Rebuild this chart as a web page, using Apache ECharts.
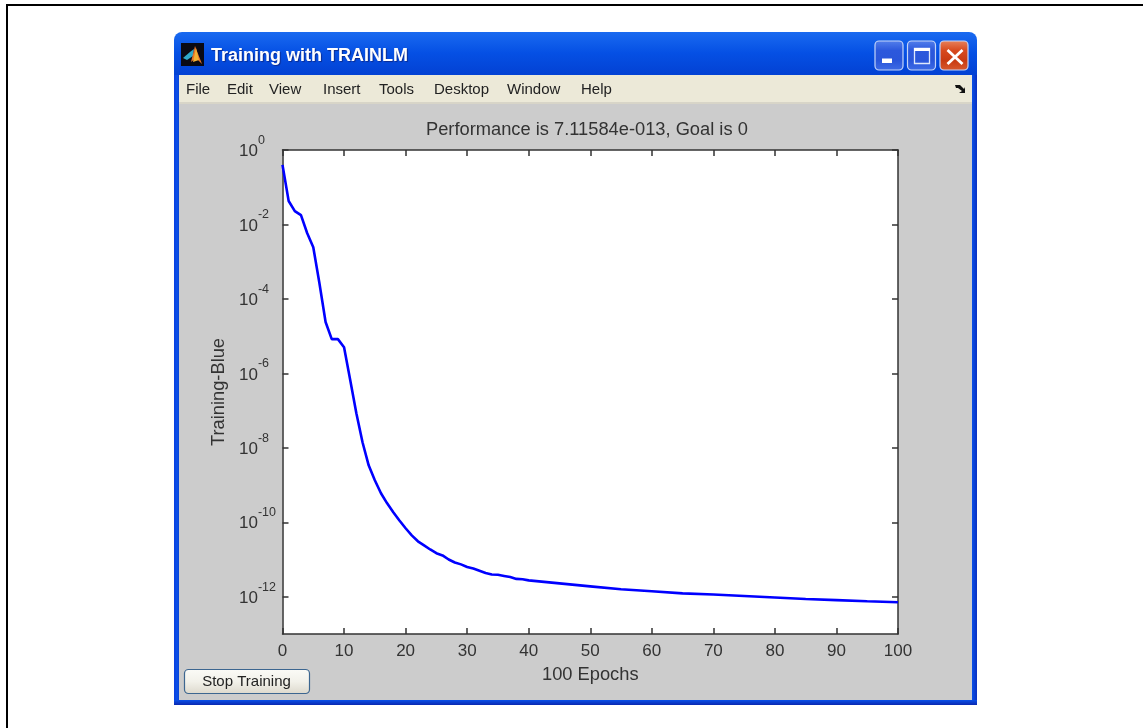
<!DOCTYPE html>
<html><head><meta charset="utf-8">
<style>html,body{margin:0;padding:0;background:#fff}#c{width:1143px;height:728px}</style>
<script src="https://cdn.jsdelivr.net/npm/echarts@6/dist/echarts.min.js"></script>
</head><body><div id="c"></div>
<script>
const windowTitle = 'Training with TRAINLM';
const chartTitle = 'Performance is 7.11584e-013, Goal is 0';
const xName = '100 Epochs';
const yName = 'Training-Blue';
const buttonText = 'Stop Training';
const menuItems = ['File','Edit','View','Insert','Tools','Desktop','Window','Help'];
const menuX = [186,227,269,323,379,434,507,581];
const epochs = [0,1,2,3,4,5,6,7,8,9,10,11,12,13,14,15,16,17,18,19,20,21,22,23,24,25,26,27,28,29,30,31,32,33,34,35,36,37,38,39,40,45,50,55,60,65,70,75,80,85,90,95,100];
const perfExp = [-0.40,-1.37,-1.64,-1.75,-2.23,-2.61,-3.58,-4.62,-5.08,-5.08,-5.30,-6.18,-7.07,-7.85,-8.47,-8.87,-9.22,-9.49,-9.73,-9.95,-10.16,-10.35,-10.51,-10.62,-10.73,-10.83,-10.89,-11.00,-11.08,-11.13,-11.20,-11.24,-11.30,-11.36,-11.40,-11.41,-11.44,-11.47,-11.52,-11.53,-11.56,-11.64,-11.72,-11.80,-11.85,-11.91,-11.94,-11.98,-12.02,-12.06,-12.09,-12.12,-12.148];
const xTicks = [0,10,20,30,40,50,60,70,80,90,100];
const yTickExp = [0,-2,-4,-6,-8,-10,-12];
const yTicks = yTickExp.map(e => Math.pow(10, e));

const FONT = '"Liberation Sans", Arial, sans-serif';
const INK = '#333333';
const sup = {sup:{fontSize:12.5,verticalAlign:'bottom',padding:[0,0,13,0],color:INK,fontFamily:FONT,lineHeight:13},
             b:{fontSize:17,color:INK,fontFamily:FONT,padding:[3,0,0,0]}};
const axisLine = {show:true,onZero:false,lineStyle:{color:INK,width:1.5}};

function grad(stops,h){return {type:'linear',x:0,y:0,x2:h?1:0,y2:h?0:1,colorStops:stops.map((c,i)=>({offset:i/(stops.length-1),color:c}))};}
const rect=(x,y,w,h,fill,extra)=>Object.assign({type:'rect',shape:{x,y,width:w,height:h,r:(extra&&extra.r)||0},style:Object.assign({fill},(extra&&extra.style)||{}),silent:true},extra&&extra.z?{z:extra.z}:{});
const txt=(x,y,text,style)=>({type:'text',x,y,silent:true,style:Object.assign({text,fontFamily:FONT,fill:'#222',verticalAlign:'middle'},style)});
const poly=(pts,fill)=>({type:'polygon',shape:{points:pts},style:{fill},silent:true});
const winBtn=(x,fill)=>rect(x,41,28,29,fill,{r:4,style:{stroke:'#c4d4f8',lineWidth:1.2}});
const hair=(x1,y1,x2,y2,w)=>({type:'line',shape:{x1,y1,x2,y2},style:{stroke:'#fff',lineWidth:w},silent:true});

const graphics = [
  // page frame: top and left rules only
  {type:'polyline',shape:{points:[[7,728],[7,5],[1143,5]]},style:{stroke:'#000',lineWidth:2,fill:null},silent:true},
  // window body
  {type:'rect',shape:{x:174,y:32,width:803,height:673,r:[8,8,0,0]},style:{fill:grad(['#1A6AF0','#0550E4','#0342D4','#0650E2','#0344D6'].concat(Array(28).fill('#0A3CDC')))},silent:true},
  rect(174,75,6,630,grad(['#0A3EE0','#0A50E8','#0A3CD0'],true)),
  rect(972,75,5,630,grad(['#0A50E8','#0A30C0'],true)),
  rect(174,700,803,5,grad(['#0A50E8','#0A28B0'])),
  rect(179,75,793,27,'#ECE9D8'),
  rect(179,102,793,598,'#CCCCCC'),
  rect(179,102,793,2,'#D8D5C8'),
  // app icon
  rect(181,43,23,23,'#0A0A14'),
  poly([[183,58],[190,52],[194,49],[193,56],[187,60]],'#2FA9C9'),
  poly([[195,46],[202,64],[196,58],[191,62],[193,54]],'#E8742A'),
  poly([[196,48],[199,60],[193,62]],'#F5B233'),
  // title and controls
  txt(211,56.5,windowTitle,{fontSize:18,fontWeight:'bold',fill:'#fff',textShadowColor:'#0a2a90',textShadowBlur:1,textShadowOffsetX:1,textShadowOffsetY:1}),
  winBtn(875,grad(['#5480EC','#2C58DC','#2A56DA','#3F6CE6'])),
  rect(882,58.5,10,4.5,'#fff'),
  winBtn(907.5,grad(['#5480EC','#2C58DC','#2A56DA','#3F6CE6'])),
  {type:'rect',shape:{x:914.5,y:48.5,width:15,height:15},style:{fill:null,stroke:'#dfe8fb',lineWidth:1.3},silent:true},
  rect(914,48,16,3,'#fff'),
  winBtn(940,grad(['#E8845E','#D84A1E','#C83A12','#D85A30'])),
  hair(947.5,50,962.5,64,2.8),
  hair(962.5,50,947.5,64,2.8),
  // dock arrow
  poly([[955,85],[960,85],[964,89],[965,87],[965,93],[959,93],[962,91],[958,88],[956,88]],'#111'),
  // stop button
  {type:'rect',shape:{x:184.5,y:669.5,width:125,height:24,r:4},style:{fill:grad(['#FBFBF7','#F2F1EA','#DCD8CC']),stroke:'#3C6690',lineWidth:1.2},silent:true},
  txt(246.5,681.5,buttonText,{fontSize:15,textAlign:'center',fill:'#222'}),
  ...menuItems.map((m,i)=>txt(menuX[i],90,m,{fontSize:15,fill:'#222'}))
];
graphics.forEach(g=>{ g.z=-10; });

const chart = echarts.init(document.getElementById('c'),null,{renderer:'canvas'});
chart.setOption({
  animation:false,
  backgroundColor:'#fff',
  title:{text:chartTitle,left:421,top:116,
    textStyle:{fontFamily:FONT,fontSize:18.3,fontWeight:'normal',color:INK}},
  grid:{left:282.5,top:150,width:615.5,height:484,backgroundColor:'#fff',show:true,borderWidth:0},
  graphic:{elements:graphics},
  xAxis:[
    {type:'value',min:0,max:100,interval:10,position:'bottom',name:xName,nameLocation:'middle',nameGap:32,
     nameTextStyle:{fontFamily:FONT,fontSize:18.3,color:INK},
     axisLine,axisTick:{show:true,inside:true,length:6,lineStyle:{color:INK,width:1.5}},
     axisLabel:{fontFamily:FONT,fontSize:17,color:INK,margin:9,customValues:xTicks},splitLine:{show:false}},
    {type:'value',min:0,max:100,interval:10,position:'top',axisLine,
     axisTick:{show:true,inside:true,length:6,lineStyle:{color:INK,width:1.5}},axisLabel:{show:false},splitLine:{show:false}}
  ],
  yAxis:[
    {type:'log',logBase:10,min:1e-13,max:1,position:'left',name:yName,nameLocation:'middle',nameGap:55,
     nameTextStyle:{fontFamily:FONT,fontSize:18.3,color:INK},
     axisLine,
     axisTick:{show:true,inside:true,length:6,customValues:yTicks,lineStyle:{color:INK,width:1.5}},
     axisLabel:{show:true,margin:43.5,align:'left',customValues:yTicks,rich:sup,
       formatter:v=>'{b|10}{sup|'+Math.round(Math.log10(v))+'}'},
     splitLine:{show:false},minorTick:{show:false}},
    {type:'log',logBase:10,min:1e-13,max:1,position:'right',axisLine,
     axisTick:{show:true,inside:true,length:6,customValues:yTicks,lineStyle:{color:INK,width:1.5}},
     axisLabel:{show:false},splitLine:{show:false}}
  ],
  series:[{type:'line',xAxisIndex:0,yAxisIndex:0,showSymbol:false,symbol:'none',smooth:false,clip:true,
    lineStyle:{color:'#0000FF',width:2.6},z:5,
    data:epochs.map((e,i)=>[e,Math.pow(10,perfExp[i])])}]
});
</script></body></html>
